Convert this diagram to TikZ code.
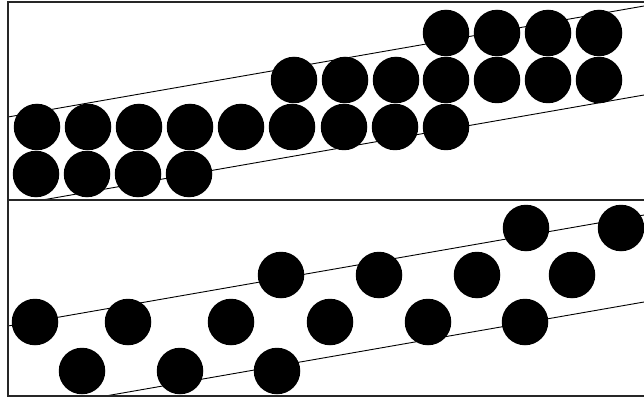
\documentclass[tikz,border=0pt]{standalone}
\begin{document}
\begin{tikzpicture}[x=1pt,y=-1pt,
  ball/.style={circle,fill=black,inner sep=0pt,minimum size=46.5pt},
  frame/.style={line width=2.4pt,draw=black!85},
  guide/.style={line width=0.9pt,draw=black}]
\useasboundingbox (0,0) rectangle (644,398);
% top panel guide lines
\begin{scope}
\clip (8,2) rectangle (650,200);
\coordinate (ua) at (8,117); \coordinate (ub) at (644,6);
\coordinate (la) at (8,206); \coordinate (lb) at (644,95);
\draw[guide] (ua) -- (ub);
\draw[guide] (la) -- (lb);
\end{scope}
% bottom panel guide lines
\begin{scope}
\clip (8,200) rectangle (650,396);
\coordinate (bua) at (8,326); \coordinate (bub) at (644,215);
\coordinate (bla) at (8,413); \coordinate (blb) at (644,302);
\draw[guide] (bua) -- (bub);
\draw[guide] (bla) -- (blb);
\end{scope}
% top panel balls
\foreach \x [count=\i] in {36,87,138,189} \node[ball] (ta\i) at (\x,174) {};
\foreach \x [count=\i] in {37,88,139,190,241,292,344,395,446} \node[ball] (tb\i) at (\x,127) {};
\foreach \x [count=\i] in {294,345,396,446,497,548,599} \node[ball] (tc\i) at (\x,80) {};
\foreach \x [count=\i] in {446,497,548,599} \node[ball] (td\i) at (\x,33) {};
% bottom panel balls
\foreach \x [count=\i] in {35,128,231,330,428,525} \node[ball] (ba\i) at (\x,322) {};
\foreach \x [count=\i] in {82,180,277} \node[ball] (bb\i) at (\x,371) {};
\foreach \x [count=\i] in {281,379,477,572} \node[ball] (bc\i) at (\x,275) {};
\foreach \x [count=\i] in {526,621} \node[ball] (bd\i) at (\x,228) {};
% frames
\draw[frame] (660,2) -- (8,2) -- (8,396) -- (660,396);
\draw[frame] (8,200) -- (660,200);
\end{tikzpicture}
\end{document}
